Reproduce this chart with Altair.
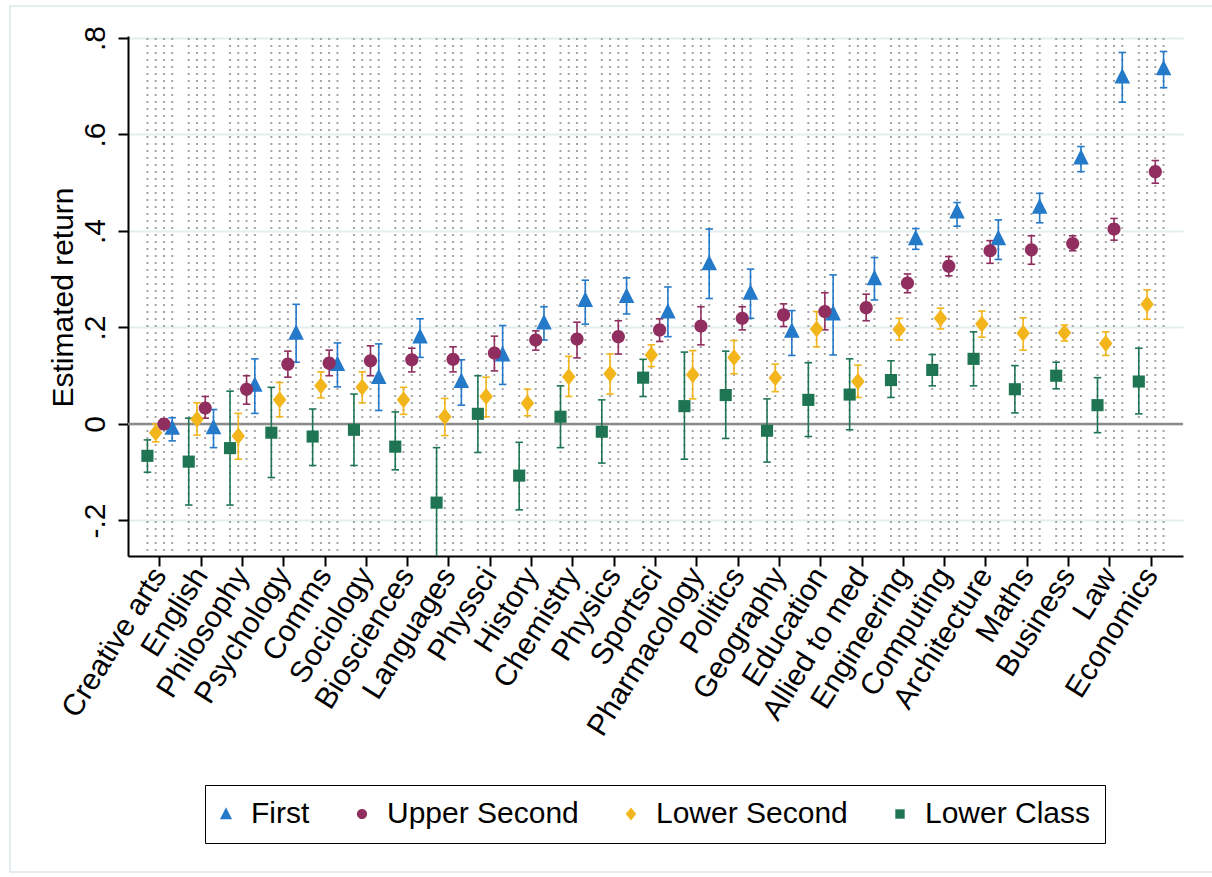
import altair as alt
import pandas as pd

# Subjects, ordered as on the x axis
subjects = [
    "Creative arts", "English", "Philosophy", "Psychology", "Comms", "Sociology",
    "Biosciences", "Languages", "Physsci", "History", "Chemistry", "Physics",
    "Sportsci", "Pharmacology", "Politics", "Geography", "Education",
    "Allied to med", "Engineering", "Computing", "Architecture", "Maths",
    "Business", "Law", "Economics",
]

series_names = ["First", "Upper Second", "Lower Second", "Lower Class"]
offset_order = ["Lower Class", "Lower Second", "Upper Second", "First"]
series_colors = ["#2479c9", "#8f2e5f", "#f2b51b", "#1f7553"]

# Point estimates and 95% interval bounds per degree class
first_est = [-0.008, -0.007, 0.081, 0.189, 0.124, 0.097, 0.181, 0.089, 0.144, 0.210, 0.257, 0.265, 0.233,
             0.333, 0.272, 0.193, 0.229, 0.302, 0.385, 0.440, 0.385, 0.450, 0.552, 0.720, 0.737]
first_lo = [-0.035, -0.049, 0.022, 0.128, 0.077, 0.028, 0.138, 0.039, 0.082, 0.174, 0.207, 0.228, 0.181,
            0.260, 0.219, 0.142, 0.143, 0.257, 0.362, 0.410, 0.341, 0.417, 0.523, 0.667, 0.697]
first_hi = [0.013, 0.030, 0.135, 0.248, 0.168, 0.166, 0.218, 0.133, 0.204, 0.243, 0.298, 0.303, 0.284,
            0.404, 0.321, 0.235, 0.309, 0.345, 0.405, 0.459, 0.423, 0.478, 0.575, 0.770, 0.772]

upper_est = [0.000, 0.033, 0.072, 0.124, 0.126, 0.131, 0.133, 0.134, 0.147, 0.174, 0.176, 0.181, 0.195,
             0.203, 0.219, 0.226, 0.233, 0.241, 0.292, 0.327, 0.359, 0.361, 0.374, 0.404, 0.523]
upper_lo = [-0.010, 0.012, 0.041, 0.097, 0.100, 0.100, 0.108, 0.108, 0.110, 0.153, 0.137, 0.145, 0.171,
            0.164, 0.195, 0.202, 0.195, 0.214, 0.272, 0.307, 0.333, 0.331, 0.359, 0.381, 0.499]
upper_hi = [0.010, 0.057, 0.100, 0.151, 0.153, 0.162, 0.157, 0.160, 0.182, 0.193, 0.211, 0.214, 0.218,
            0.243, 0.243, 0.249, 0.272, 0.269, 0.311, 0.347, 0.380, 0.390, 0.390, 0.426, 0.546]

lower_est = [-0.018, 0.010, -0.025, 0.050, 0.079, 0.076, 0.050, 0.015, 0.057, 0.043, 0.098, 0.104, 0.143,
             0.102, 0.138, 0.096, 0.197, 0.088, 0.196, 0.219, 0.207, 0.188, 0.189, 0.167, 0.248]
lower_lo = [-0.037, -0.023, -0.073, 0.015, 0.054, 0.044, 0.020, -0.024, 0.015, 0.017, 0.057, 0.062, 0.119,
            0.052, 0.104, 0.067, 0.160, 0.055, 0.174, 0.197, 0.180, 0.153, 0.172, 0.142, 0.217]
lower_hi = [0.000, 0.044, 0.022, 0.086, 0.108, 0.108, 0.076, 0.053, 0.097, 0.072, 0.140, 0.145, 0.164,
            0.152, 0.173, 0.124, 0.233, 0.122, 0.219, 0.240, 0.234, 0.220, 0.205, 0.191, 0.278]

third_est = [-0.066, -0.078, -0.050, -0.018, -0.026, -0.012, -0.047, -0.163, 0.021, -0.107, 0.015, -0.016,
             0.096, 0.037, 0.060, -0.014, 0.050, 0.061, 0.091, 0.112, 0.135, 0.072, 0.100, 0.039, 0.088]
third_lo = [-0.100, -0.168, -0.168, -0.111, -0.086, -0.086, -0.095, -0.277, -0.059, -0.178, -0.049, -0.081,
            0.057, -0.073, -0.030, -0.079, -0.026, -0.012, 0.055, 0.079, 0.079, 0.023, 0.073, -0.018, 0.021]
third_hi = [-0.033, 0.012, 0.068, 0.076, 0.031, 0.062, 0.025, -0.049, 0.100, -0.038, 0.079, 0.050,
            0.134, 0.149, 0.151, 0.052, 0.127, 0.135, 0.131, 0.144, 0.191, 0.121, 0.128, 0.096, 0.157]

y_ticks = [-0.2, 0.0, 0.2, 0.4, 0.6, 0.8]

rows = []
for name, est, lo, hi in [
    ("First", first_est, first_lo, first_hi),
    ("Upper Second", upper_est, upper_lo, upper_hi),
    ("Lower Second", lower_est, lower_lo, lower_hi),
    ("Lower Class", third_est, third_lo, third_hi),
]:
    for s, e, l, h in zip(subjects, est, lo, hi):
        rows.append({"subject": s, "degree": name, "est": e, "lo": l, "hi": h})
df = pd.DataFrame(rows)

W, H = 1055, 520
FONT = "Liberation Sans"

y_scale = alt.Scale(domain=[-0.2736, 0.8041], nice=False, zero=False)
y_axis = alt.Axis(
    values=y_ticks,
    labelExpr="datum.value == 0 ? '0' : (datum.value < 0 ? '-' : '') + replace(format(abs(datum.value), '.1f'), '0.', '.')",
    labelAngle=270, labelAlign="center", labelBaseline="alphabetic", labelPadding=14,
    grid=True, gridColor="#e4edf0", gridWidth=2,
    title="Estimated return", titleAngle=270, titleBaseline="alphabetic", titleAlign="center",
    titleX=-56, titleY=261,
)

x_enc = alt.X(
    "subject:N", sort=subjects,
    scale=alt.Scale(domain=subjects, paddingInner=0, paddingOuter=0.27),
    axis=alt.Axis(title=None, labelAngle=-58, labelAlign="right", labelBaseline="middle",
                  labelPadding=4, labelLimit=0, grid=False),
)
xoff = alt.XOffset("degree:N", scale=alt.Scale(domain=offset_order, paddingInner=0, paddingOuter=0.5))
color_enc = alt.Color("degree:N", scale=alt.Scale(domain=series_names, range=series_colors), title=None)

# marker outlines in unit coordinates, so one symbol size fits all four
tri = "M0,-1L-0.9,0.8L0.9,0.8Z"
circ = "M-0.76,0A0.76,0.76 0 1,0 0.76,0A0.76,0.76 0 1,0 -0.76,0Z"
dia = "M-0.78,0L0,-0.98L0.78,0L0,0.98Z"
sq = "M-0.7,-0.7L0.7,-0.7L0.7,0.7L-0.7,0.7Z"
shape_enc = alt.Shape("degree:N", scale=alt.Scale(domain=series_names, range=[tri, circ, dia, sq]),
                      title=None)

base = alt.Chart(df)

# dotted guide at every marker column
guides = base.mark_rule(color="#a4a4a4", strokeWidth=2, strokeDash=[2, 5]).encode(
    x=x_enc, xOffset=xoff, y=alt.value(2), y2=alt.value(H)
)

zero = alt.Chart(pd.DataFrame({"z": [0.0]})).mark_rule(color="#8a8a8a", strokeWidth=2.5).encode(
    y=alt.Y("z:Q", scale=y_scale, axis=y_axis), x=alt.value(0), x2=alt.value(W)
)

bars = base.mark_rule(strokeWidth=1.6, clip=True).encode(
    x=x_enc, xOffset=xoff,
    y=alt.Y("lo:Q", scale=y_scale, axis=y_axis), y2="hi:Q",
    color=color_enc,
)

cap_lo = base.mark_point(shape="M-1,0L1,0", size=56, strokeWidth=1.6, filled=False, opacity=1, clip=True).encode(
    x=x_enc, xOffset=xoff, y=alt.Y("lo:Q", scale=y_scale, axis=y_axis), color=color_enc,
)
cap_hi = base.mark_point(shape="M-1,0L1,0", size=56, strokeWidth=1.6, filled=False, opacity=1, clip=True).encode(
    x=x_enc, xOffset=xoff, y=alt.Y("hi:Q", scale=y_scale, axis=y_axis), color=color_enc,
)

points = base.mark_point(filled=True, opacity=1, strokeWidth=0, size=300).encode(
    x=x_enc, xOffset=xoff,
    y=alt.Y("est:Q", scale=y_scale, axis=y_axis),
    color=color_enc,
    shape=shape_enc,
)

frame = alt.Chart(pd.DataFrame({"f": [0]})).mark_rect(fill=None, stroke="#dde7eb", strokeWidth=1.5).encode(
    x=alt.value(10 - 128), x2=alt.value(1240 - 128), y=alt.value(6 - 36), y2=alt.value(872 - 36)
)

chart = alt.layer(frame, guides, zero, bars, cap_lo, cap_hi, points).properties(
    width=W, height=H,
    autosize=alt.AutoSizeParams(type="none"),
    padding={"left": 128, "top": 36, "right": 29, "bottom": 321},
    background="white",
).configure_view(stroke=None).configure_axis(
    domainColor="black", domainWidth=2, tickColor="black", tickWidth=2, tickSize=10,
    labelColor="black", labelFont=FONT, labelFontSize=30,
    titleColor="black", titleFont=FONT, titleFontSize=30, titleFontWeight="normal",
).configure_legend(
    orient="none", legendX=77, legendY=749, direction="horizontal",
    labelFont=FONT, labelFontSize=30, labelColor="black", labelOffset=10, labelLimit=0,
    symbolSize=180, symbolStrokeWidth=0, symbolOffset=-8, columnPadding=45, padding=14,
    strokeColor="black", fillColor="white", cornerRadius=0,
)

chart.save("out.html", embed_options={"renderer": "svg", "actions": False})
